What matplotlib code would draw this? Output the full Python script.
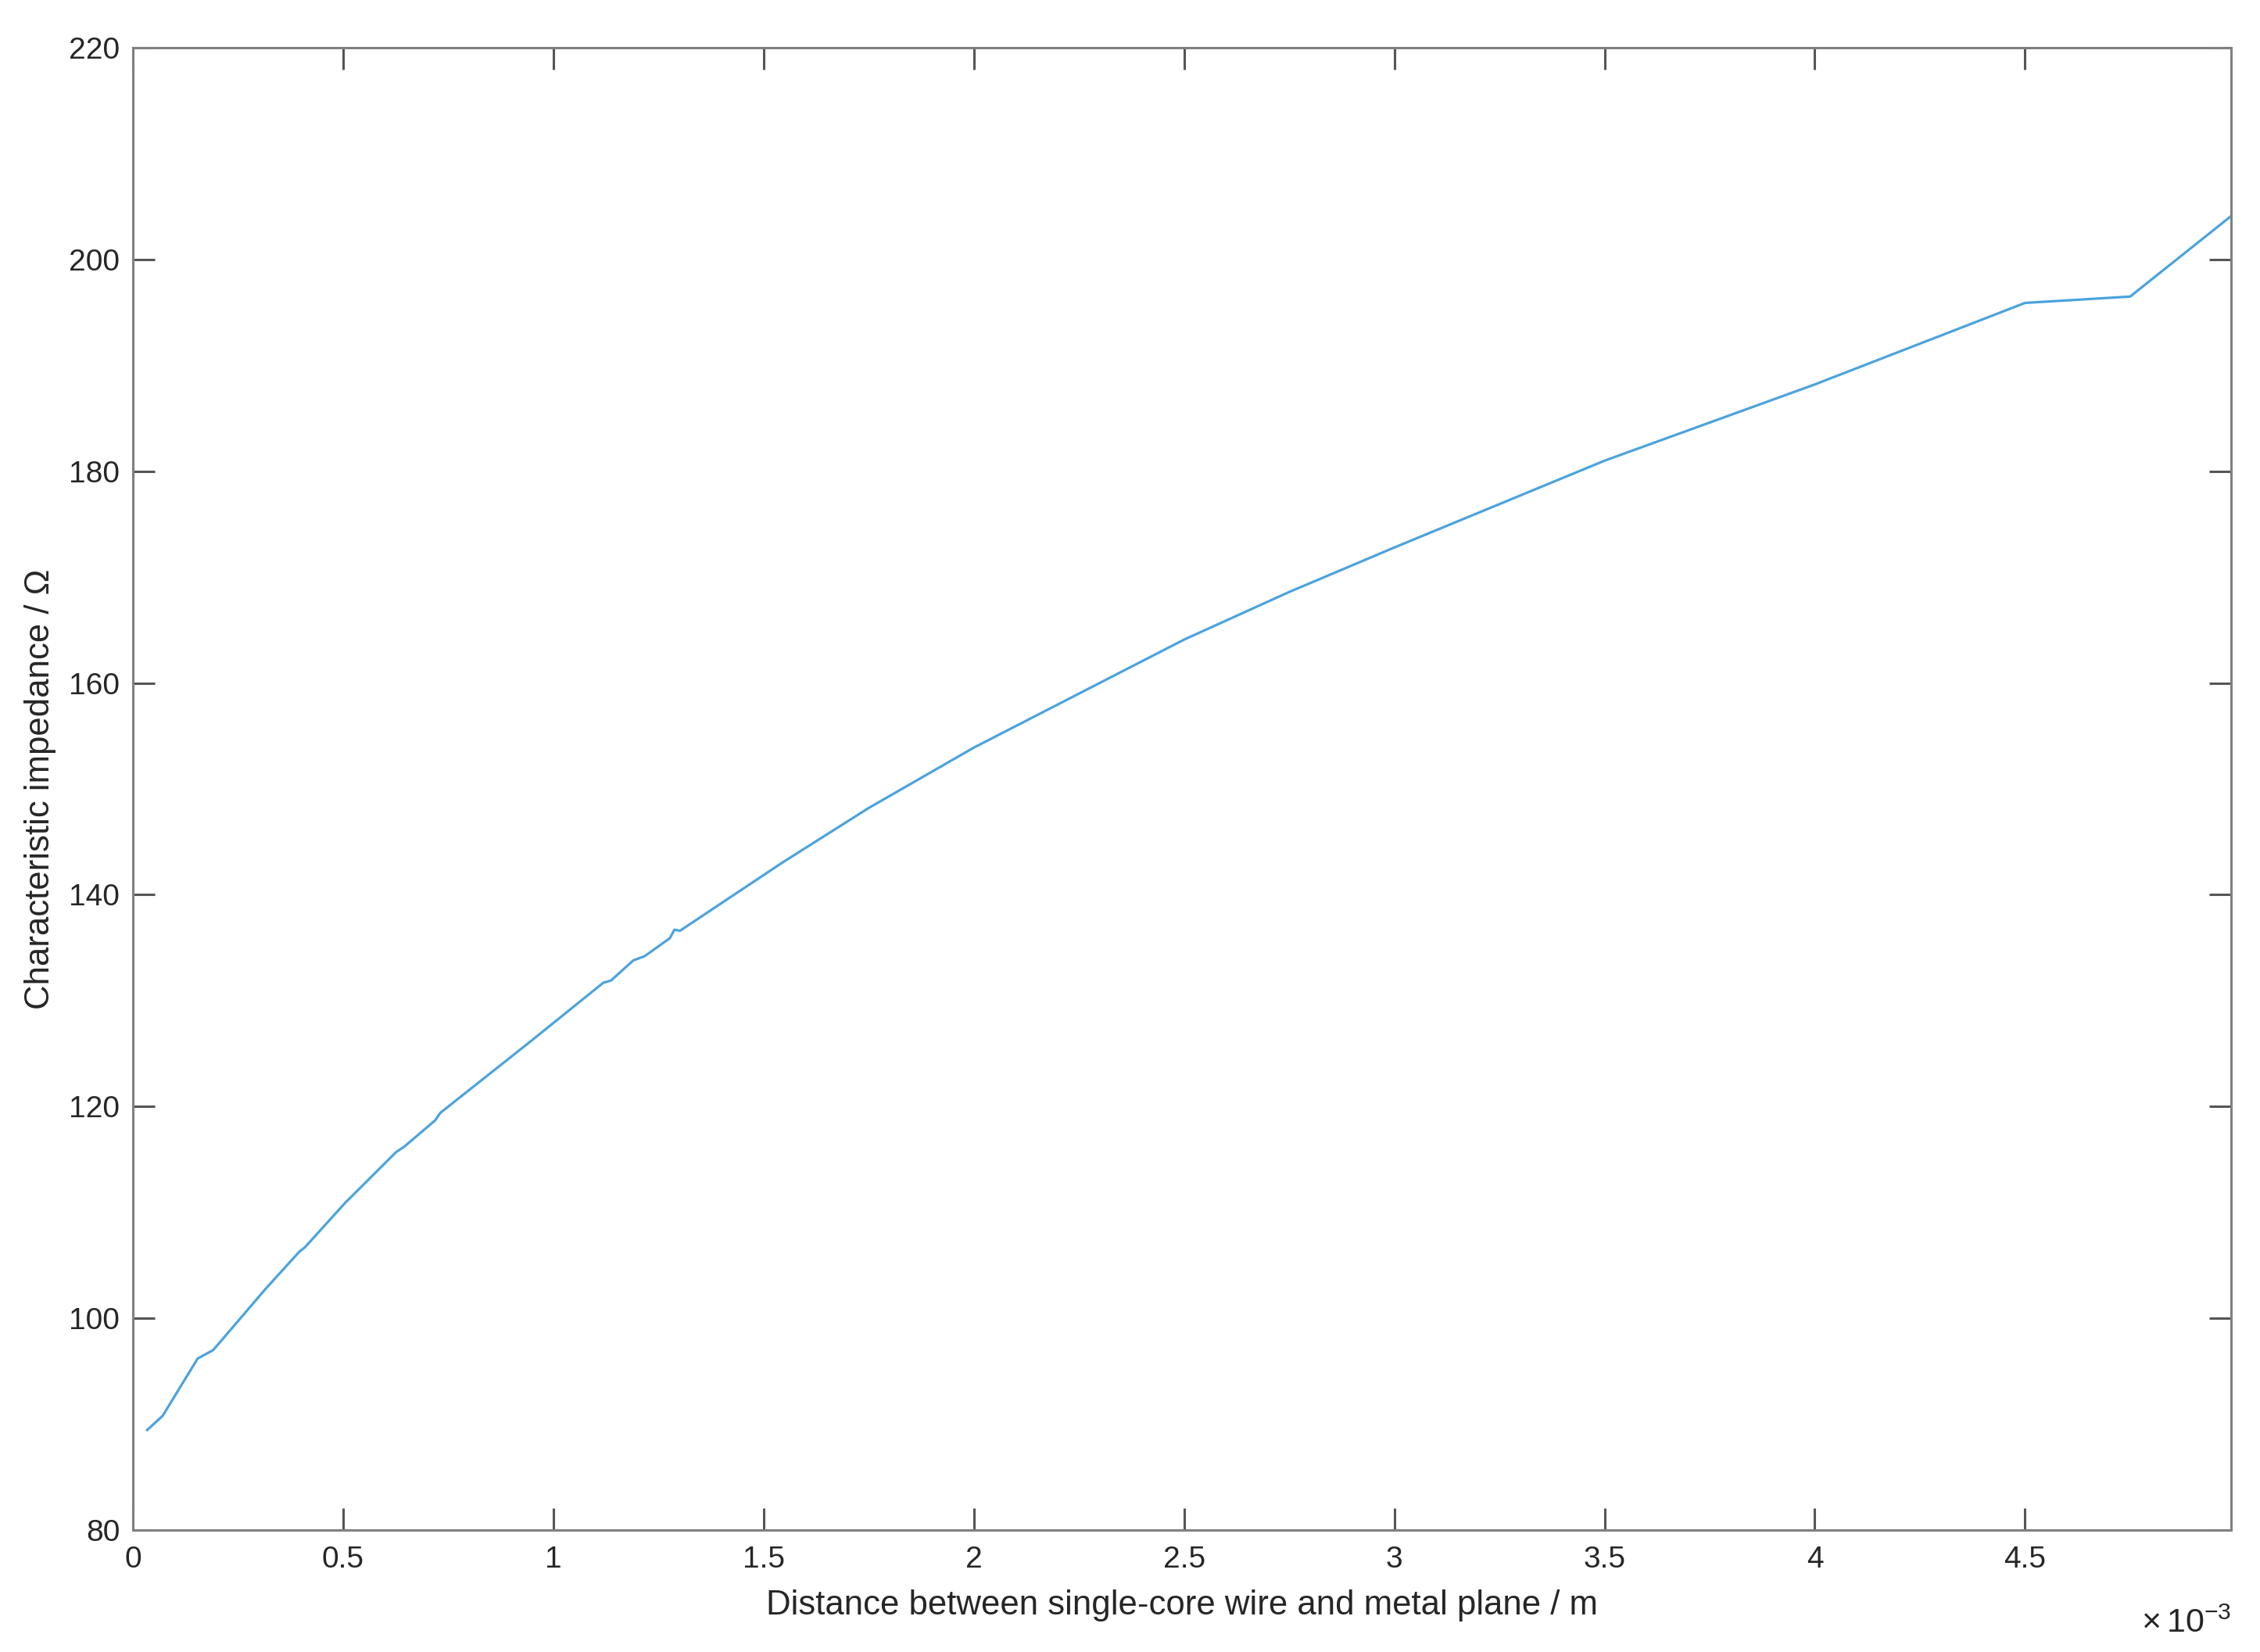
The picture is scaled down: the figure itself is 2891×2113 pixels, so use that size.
import numpy as np
import matplotlib
matplotlib.use('Agg')
import matplotlib.pyplot as plt

# distance in units of 1e-3 m, impedance in ohm
dist_mm = [0.034, 0.071, 0.154, 0.191, 0.316, 0.396, 0.409, 0.507, 0.52,
           0.626, 0.645, 0.719, 0.731, 0.944, 1.019, 1.119, 1.137, 1.19,
           1.217, 1.277, 1.288, 1.301, 1.543, 1.75, 2.0, 2.25, 2.5, 2.75,
           3.0, 3.5, 4.0, 4.5, 4.75, 4.99]
impedance = [89.45, 90.8, 96.2, 97.0, 102.8, 106.3, 106.7, 111.0, 111.5,
             115.7, 116.2, 118.7, 119.4, 126.1, 128.5, 131.7, 131.9, 133.8,
             134.2, 135.9, 136.7, 136.6, 143.0, 148.2, 153.9, 159.0, 164.1, 168.6,
             172.8, 181.0, 188.2, 195.9, 196.5, 204.1]

xticks = [0, 0.5, 1, 1.5, 2, 2.5, 3, 3.5, 4, 4.5]
xtick_labels = ['0', '0.5', '1', '1.5', '2', '2.5', '3', '3.5', '4', '4.5']
yticks = [80, 100, 120, 140, 160, 180, 200, 220]

plt.rcParams['font.family'] = ['Liberation Sans', 'DejaVu Sans']
plt.rcParams['mathtext.fontset'] = 'custom'
plt.rcParams['mathtext.rm'] = 'Liberation Sans'

fig = plt.figure(figsize=(28.91, 21.13), dpi=100)
ax = fig.add_axes([0.0588, 0.0738, 0.9284, 0.8973])

ax.plot(dist_mm, impedance, color='#4ba3dd', lw=2.3)

ax.set_xlim(0, dist_mm[-1])
ax.set_ylim(80, 220)
ax.set_xticks(xticks)
ax.set_xticklabels(xtick_labels)
ax.set_yticks(yticks)

for s in ax.spines.values():
    s.set_color('#808080')
    s.set_linewidth(2.2)

ax.tick_params(axis='both', direction='in', length=20, width=2.2, color='#555555',
               labelsize=28, labelcolor='#262626', top=True, right=True)
ax.tick_params(axis='x', pad=14)
ax.tick_params(axis='y', pad=12)

ax.set_xlabel('Distance between single-core wire and metal plane / m', fontsize=31.5,
              color='#262626', labelpad=15)
ax.set_ylabel('Characteristic impedance / Ω', fontsize=31.5, color='#262626', labelpad=12)

ax.text(1.0, -0.069, r'$\times\,10^{-3}$', transform=ax.transAxes, ha='right', va='baseline',
        fontsize=31, color='#262626')

fig.savefig('out.png', dpi=100, facecolor='white')
